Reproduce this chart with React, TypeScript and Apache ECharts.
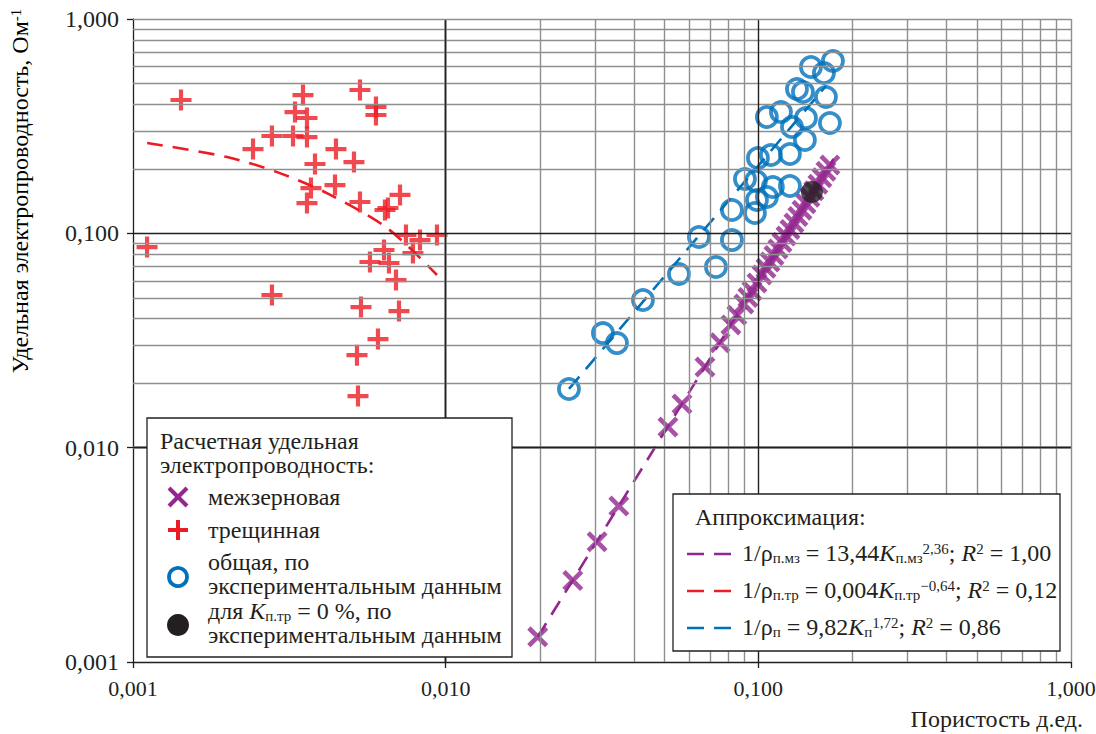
import React, { useEffect, useRef } from 'react';
import * as echarts from 'echarts';

// ---------- data ----------
const axisDecades = [0.001, 0.01, 0.1, 1];
const minorFactors = [2, 3, 4, 5, 6, 7, 8, 9];

// межзерновая (purple X)
const interGranular: [number, number][] = [
  [0.0197, 0.00131], [0.0255, 0.0024], [0.0305, 0.00364], [0.0358, 0.00534],
  [0.0514, 0.0125], [0.057, 0.016], [0.0675, 0.0238], [0.0754, 0.0309],
  [0.0817, 0.0374], [0.0854, 0.0415], [0.0899, 0.0468], [0.0926, 0.0502],
  [0.0954, 0.0538], [0.099, 0.0587], [0.1027, 0.064], [0.1058, 0.0687],
  [0.1089, 0.0735], [0.1122, 0.0788], [0.1155, 0.0846], [0.119, 0.0906],
  [0.1226, 0.0971], [0.1262, 0.1041], [0.13, 0.1117], [0.1338, 0.1197],
  [0.1379, 0.1283], [0.142, 0.1374], [0.1462, 0.1474], [0.1506, 0.158],
  [0.1551, 0.1693], [0.1597, 0.1815], [0.1645, 0.1947], [0.1694, 0.2085],
];

// трещинная (red +)
const fracture: [number, number][] = [
  [0.001424, 0.4188], [0.00532, 0.4664], [0.003497, 0.4418], [0.005985, 0.3885],
  [0.003297, 0.3681], [0.003601, 0.3452], [0.005985, 0.3565], [0.002782, 0.2845],
  [0.003249, 0.2845], [0.003601, 0.2814], [0.00242, 0.2473], [0.004458, 0.2473],
  [0.00382, 0.2106], [0.00509, 0.2151], [0.003708, 0.1627], [0.004426, 0.168],
  [0.003601, 0.1384], [0.00532, 0.14], [0.007144, 0.151], [0.006396, 0.1285],
  [0.006539, 0.1313], [0.001109, 0.0863], [0.007464, 0.0982], [0.008275, 0.093],
  [0.00938, 0.0982], [0.006349, 0.0836], [0.007858, 0.0809], [0.005726, 0.0735],
  [0.006586, 0.0727], [0.006937, 0.0605], [0.002782, 0.0515], [0.00536, 0.0453],
  [0.007091, 0.0434], [0.006075, 0.0321], [0.005204, 0.027], [0.005243, 0.0174],
];

// общая, по экспериментальным данным (blue O)
const total: [number, number][] = [
  [0.02479, 0.01877], [0.03184, 0.03425], [0.0353, 0.03076], [0.04276, 0.04884],
  [0.05572, 0.06457], [0.06457, 0.0961], [0.07318, 0.06964], [0.08232, 0.093],
  [0.08232, 0.1285], [0.09061, 0.1792], [0.09824, 0.1754], [0.09897, 0.143],
  [0.09752, 0.1244], [0.1065, 0.1477], [0.1113, 0.1645], [0.1262, 0.1662],
  [0.0997, 0.2245], [0.1097, 0.2319], [0.1262, 0.2344], [0.1409, 0.2725],
  [0.1065, 0.3488], [0.1181, 0.3681], [0.1281, 0.3133], [0.142, 0.3452],
  [0.1694, 0.3271], [0.1329, 0.4714], [0.1389, 0.4564], [0.1645, 0.4325],
  [0.1473, 0.5971], [0.1621, 0.5598], [0.1732, 0.6368],
];

// для Kп.тр = 0 % (black dot)
const zeroFracture: [number, number][] = [[0.1484, 0.1558]];

// approximation lines
const trendInter: [number, number][] = [[0.0197, 0.00131], [0.1797, 0.2398]];
const trendFracture: [number, number][] = [
  [0.00111, 0.264], [0.002, 0.227], [0.00289, 0.193], [0.00417, 0.154], [0.00649, 0.106], [0.00938, 0.0639],
];
const trendTotal: [number, number][] = [[0.0248, 0.0188], [0.1645, 0.4868]];

// ---------- styles ----------
const PURPLE = '#92278f';
const RED = '#ec1c24';
const BLUE = '#0072bc';
const BLACK = '#231f20';
const FONT = '"Liberation Serif", "Times New Roman", serif';
const FS = 24;

const X_SYMBOL =
  'path://M0.92,-0.92L10.92,9.08L9.08,10.92L-0.92,0.92ZM9.08,-0.92L10.92,0.92L0.92,10.92L-0.92,9.08Z';
const PLUS_SYMBOL = 'path://M4,0H6V4H10V6H6V10H4V6H0V4H4Z';

const fmt = (v: number) => v.toFixed(3).replace('.', ',');

const rich = {
  a: { fontFamily: FONT, fontSize: FS, lineHeight: 24, color: BLACK },
  i: { fontFamily: FONT, fontSize: FS, lineHeight: 24, fontStyle: 'italic', color: BLACK },
  sub: { fontFamily: FONT, fontSize: 15, lineHeight: 12, verticalAlign: 'bottom', color: BLACK },
  sup: { fontFamily: FONT, fontSize: 15, lineHeight: 12, verticalAlign: 'top', color: BLACK },
};

function buildGridLines() {
  const data: any[] = [];
  const minor = { color: '#8f8f8f', width: 1.4, type: 'solid' };
  const major = { color: BLACK, width: 1.4, type: 'solid' };
  axisDecades.slice(0, 3).forEach((d) => {
    minorFactors.forEach((f) => {
      data.push({ xAxis: d * f, lineStyle: minor });
      data.push({ yAxis: d * f, lineStyle: minor });
    });
  });
  axisDecades.slice(1, 3).forEach((d) => {
    data.push({ xAxis: d, lineStyle: major });
    data.push({ yAxis: d, lineStyle: major });
  });
  data.push({ xAxis: 1, lineStyle: minor });
  data.push({ yAxis: 1, lineStyle: minor });
  return data;
}

function text(x: number, y: number, t: string, extra: any = {}) {
  return {
    type: 'text',
    x,
    y,
    z: 101,
    style: {
      text: t,
      font: `${FS}px ${FONT}`,
      fill: BLACK,
      align: 'left',
      verticalAlign: 'middle',
      rich,
      ...extra,
    },
  };
}

export default function App() {
  const ref = useRef<HTMLDivElement>(null);

  useEffect(() => {
    if (!ref.current) return;
    const chart = echarts.init(ref.current, undefined, { renderer: 'svg' });

    const lx = 178;
    const graphic: any[] = [
      // y axis title
      {
        type: 'text',
        x: 20,
        y: 191,
        rotation: Math.PI / 2,
        z: 101,
        style: {
          text: '{a|Удельная электропроводность, Ом}{sup|-1}',
          align: 'center',
          verticalAlign: 'middle',
          rich,
        },
      },
      // x axis title
      text(1083, 719, 'Пористость д.ед.', { align: 'right' }),
      // legend 1
      {
        type: 'rect',
        z: 100,
        shape: { x: 147, y: 418, width: 365, height: 239 },
        style: { fill: '#ffffff', stroke: BLACK, lineWidth: 1.3 },
      },
      text(160, 441, 'Расчетная удельная'),
      text(160, 465, 'электропроводность:'),
      text(208, 497, 'межзерновая'),
      text(208, 530, 'трещинная'),
      text(208, 562, 'общая, по'),
      text(208, 586, 'экспериментальным данным'),
      text(208, 611, '{a|для }{i|K}{sub|п.тр}{a| = 0 %, по}'),
      text(208, 635, 'экспериментальным данным'),
      {
        type: 'line', z: 101,
        shape: { x1: lx - 9, y1: 488, x2: lx + 9, y2: 506 },
        style: { stroke: PURPLE, lineWidth: 4 },
      },
      {
        type: 'line', z: 101,
        shape: { x1: lx + 9, y1: 488, x2: lx - 9, y2: 506 },
        style: { stroke: PURPLE, lineWidth: 4 },
      },
      {
        type: 'line', z: 101,
        shape: { x1: lx - 10, y1: 530, x2: lx + 10, y2: 530 },
        style: { stroke: RED, lineWidth: 4 },
      },
      {
        type: 'line', z: 101,
        shape: { x1: lx, y1: 520, x2: lx, y2: 540 },
        style: { stroke: RED, lineWidth: 4 },
      },
      {
        type: 'circle', z: 101,
        shape: { cx: lx, cy: 577, r: 9 },
        style: { fill: 'none', stroke: BLUE, lineWidth: 3.8 },
      },
      {
        type: 'circle', z: 101,
        shape: { cx: lx, cy: 625, r: 11 },
        style: { fill: BLACK },
      },
      // legend 2
      {
        type: 'rect',
        z: 100,
        shape: { x: 673, y: 494, width: 387, height: 157 },
        style: { fill: '#ffffff', stroke: BLACK, lineWidth: 1.3 },
      },
      text(695, 517, 'Аппроксимация:'),
      {
        type: 'line', z: 101,
        shape: { x1: 687, y1: 554, x2: 732, y2: 554 },
        style: { stroke: PURPLE, lineWidth: 2.6, lineDash: [17, 10] },
      },
      {
        type: 'line', z: 101,
        shape: { x1: 687, y1: 591, x2: 732, y2: 591 },
        style: { stroke: RED, lineWidth: 2.6, lineDash: [17, 10] },
      },
      {
        type: 'line', z: 101,
        shape: { x1: 687, y1: 628, x2: 732, y2: 628 },
        style: { stroke: BLUE, lineWidth: 2.6, lineDash: [17, 10] },
      },
      text(742, 553, '{a|1/ρ}{sub|п.мз}{a| = 13,44}{i|K}{sub|п.мз}{sup|2,36}{a|; }{i|R}{sup|2}{a| = 1,00}'),
      text(742, 590, '{a|1/ρ}{sub|п.тр}{a| = 0,004}{i|K}{sub|п.тр}{sup|−0,64}{a|; }{i|R}{sup|2}{a| = 0,12}'),
      text(742, 627, '{a|1/ρ}{sub|п}{a| = 9,82}{i|K}{sub|п}{sup|1,72}{a|; }{i|R}{sup|2}{a| = 0,86}'),
    ];

    const axisCommon = {
      type: 'log' as const,
      logBase: 10,
      min: 0.001,
      max: 1,
      axisLine: { show: true, onZero: false, lineStyle: { color: BLACK, width: 1.3 } },
      axisTick: { show: true, inside: false, length: 6, lineStyle: { color: BLACK, width: 1.3 } },
      splitLine: { show: false },
      axisLabel: {
        formatter: fmt,
        fontFamily: FONT,
        fontSize: 24,
        color: BLACK,
      },
    };

    chart.setOption({
      animation: false,
      backgroundColor: '#ffffff',
      grid: { left: 133, right: 25, top: 19, bottom: 72, containLabel: false, outerBoundsMode: 'none' },
      xAxis: { ...axisCommon, axisLabel: { ...axisCommon.axisLabel, fontSize: 22, margin: 15 } },
      yAxis: { ...axisCommon, axisLabel: { ...axisCommon.axisLabel, margin: 14 } },
      graphic,
      series: [
        {
          name: 'grid',
          type: 'line',
          z: 1,
          data: [[0.5, 0.5]],
          symbol: 'none',
          lineStyle: { opacity: 0 },
          silent: true,
          markLine: {
            silent: true,
            symbol: ['none', 'none'],
            label: { show: false },
            emphasis: { disabled: true },
            data: buildGridLines(),
          },
        },
        {
          name: 'trendInter',
          type: 'line',
          z: 2,
          data: trendInter,
          symbol: 'none',
          lineStyle: { color: PURPLE, width: 2.6, type: [16, 10] },
        },
        {
          name: 'trendFracture',
          type: 'line',
          z: 2,
          data: trendFracture,
          symbol: 'none',
          smooth: 0.3,
          lineStyle: { color: RED, width: 2.6, type: [16, 10] },
        },
        {
          name: 'trendTotal',
          type: 'line',
          z: 2,
          data: trendTotal,
          symbol: 'none',
          lineStyle: { color: BLUE, width: 2.6, type: [16, 10] },
        },
        {
          name: 'общая, по экспериментальным данным',
          type: 'scatter',
          z: 3,
          data: total,
          symbol: 'circle',
          symbolSize: 20,
          itemStyle: { color: 'rgba(255,255,255,0)', borderColor: BLUE, borderWidth: 3.8 },
        },
        {
          name: 'трещинная',
          type: 'scatter',
          z: 4,
          data: fracture,
          symbol: PLUS_SYMBOL,
          symbolSize: 21,
          itemStyle: { color: RED },
        },
        {
          name: 'межзерновая',
          type: 'scatter',
          z: 4,
          data: interGranular,
          symbol: X_SYMBOL,
          symbolSize: 21,
          itemStyle: { color: PURPLE },
        },
        {
          name: 'для Kп.тр = 0 %, по экспериментальным данным',
          type: 'scatter',
          z: 5,
          data: zeroFracture,
          symbol: 'circle',
          symbolSize: 22,
          itemStyle: { color: BLACK },
        },
      ],
    });

    return () => chart.dispose();
  }, []);

  return (
    <div
      ref={ref}
      style={{ position: 'fixed', left: 0, top: 0, width: 1096, height: 734, background: '#fff' }}
    />
  );
}
